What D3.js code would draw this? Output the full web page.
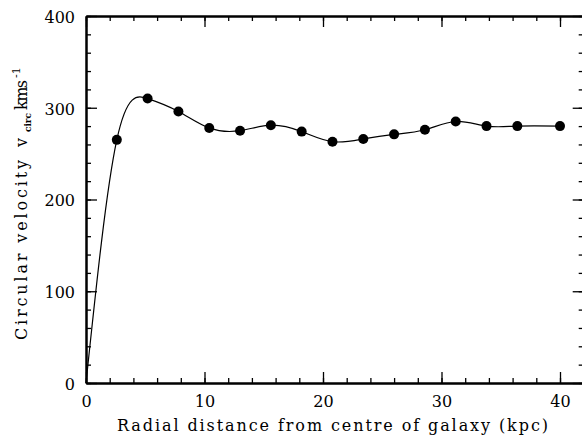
<!DOCTYPE html>
<html>
<head>
<meta charset="utf-8">
<script src="https://cdn.jsdelivr.net/npm/d3@7"></script>
<style>
  body { margin: 0; background: #fff; }
  svg { display: block; }
  .lbl { font-family: "DejaVu Serif", serif; font-size: 16px; fill: #000; }
</style>
</head>
<body>
<svg id="chart"></svg>
<script>
const radius = [2.6, 5.2, 7.8, 10.4, 13.0, 15.6, 18.2, 20.8, 23.4, 26.0, 28.6, 31.2, 33.8, 36.4, 40.0];
const velocity = [265, 310, 296, 278, 275, 281, 274, 263, 266, 271, 276, 285, 280, 280, 280];
const xTicks = [0, 10, 20, 30, 40];
const yTicks = [0, 100, 200, 300, 400];

const width = 582;
const height = 440;

const svg = d3.select("#chart").attr("width", width).attr("height", height);

const x = d3.scaleLinear().domain([0, 42]).range([86, 86 + 11.85 * 42]);
const y = d3.scaleLinear().domain([0, 400]).range([383, 16]);

const axisStyle = (g) => {
  g.select(".domain").attr("stroke-width", 2).attr("stroke", "#000");
  g.selectAll(".tick line").attr("stroke-width", 1.3).attr("stroke", "#000");
};

// minor ticks on all four sides
const minorX = d3.range(0, 43, 2);
const minorY = d3.range(0, 401, 20);
svg.append("g").attr("transform", `translate(0,${y(0)})`)
  .call(d3.axisBottom(x).tickValues(minorX).tickSize(-5).tickFormat("").tickSizeOuter(0)).call(axisStyle);
svg.append("g").attr("transform", `translate(0,${y(400)})`)
  .call(d3.axisTop(x).tickValues(minorX).tickSize(-5).tickFormat("").tickSizeOuter(0)).call(axisStyle);
svg.append("g").attr("transform", `translate(${x(0)},0)`)
  .call(d3.axisLeft(y).tickValues(minorY).tickSize(-5).tickFormat("").tickSizeOuter(0)).call(axisStyle);
svg.append("g").attr("transform", `translate(${x(42)},0)`)
  .call(d3.axisRight(y).tickValues(minorY).tickSize(-5).tickFormat("").tickSizeOuter(0)).call(axisStyle);

// major ticks + labels
const bottom = svg.append("g").attr("transform", `translate(0,${y(0)})`)
  .call(d3.axisBottom(x).tickValues(xTicks).tickSize(-11).tickSizeOuter(0)).call(axisStyle);
bottom.selectAll("text").attr("class", "lbl").attr("y", 24).attr("dy", 0);
svg.append("g").attr("transform", `translate(0,${y(400)})`)
  .call(d3.axisTop(x).tickValues(xTicks).tickSize(-11).tickFormat("").tickSizeOuter(0)).call(axisStyle);
const left = svg.append("g").attr("transform", `translate(${x(0)},0)`)
  .call(d3.axisLeft(y).tickValues(yTicks).tickSize(-11).tickSizeOuter(0)).call(axisStyle);
left.selectAll("text").attr("class", "lbl").attr("x", -11).attr("dy", "0.4em");
svg.append("g").attr("transform", `translate(${x(42)},0)`)
  .call(d3.axisRight(y).tickValues(yTicks).tickSize(-11).tickFormat("").tickSizeOuter(0)).call(axisStyle);
d3.selectAll("g").attr("font-family", null).attr("font-size", null);

// rotation curve
const pts = [[0, 0]].concat(radius.map((r, i) => [r, velocity[i]]));
const line = d3.line().x((d) => x(d[0])).y((d) => y(d[1])).curve(d3.curveNatural);
svg.append("path").datum(pts).attr("d", line)
  .attr("fill", "none").attr("stroke", "#000").attr("stroke-width", 1.2);

svg.append("g").selectAll("circle").data(radius).join("circle")
  .attr("cx", (d) => x(d))
  .attr("cy", (d, i) => y(velocity[i]))
  .attr("r", 5)
  .attr("fill", "#000");

// axis titles
svg.append("text").attr("class", "lbl")
  .attr("x", 117).attr("y", 431)
  .attr("textLength", 431).attr("lengthAdjust", "spacing")
  .text("Radial distance from centre of galaxy (kpc)");

const yl = svg.append("text").attr("class", "lbl")
  .attr("transform", "translate(27,340) rotate(-90)");
yl.append("tspan").attr("textLength", 180).attr("lengthAdjust", "spacing").text("Circular velocity");
yl.append("tspan").attr("x", 193).text("v");
yl.append("tspan").attr("x", 208).attr("font-size", 9).attr("font-weight", "bold").attr("dy", 4)
  .attr("textLength", 19).attr("lengthAdjust", "spacing").text("circ");
yl.append("tspan").attr("x", 230).attr("dy", -4).attr("textLength", 30).attr("lengthAdjust", "spacing").text("kms");
yl.append("tspan").attr("x", 262).attr("font-size", 11).attr("dy", -7).text("-1");
</script>
</body>
</html>
